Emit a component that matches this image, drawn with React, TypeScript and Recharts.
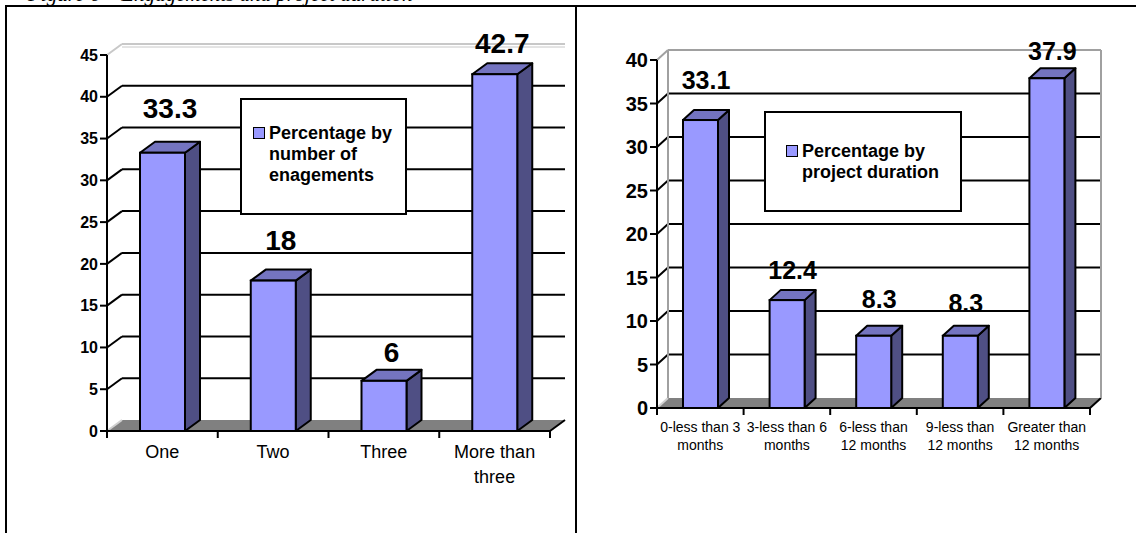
import React from 'react';
import { BarChart, Bar, XAxis, YAxis, CartesianGrid, LabelList, Legend } from 'recharts';

// left chart: number of engagements
const engagementCategories = ['One', 'Two', 'Three', 'More than\nthree'];
const engagementValues = [33.3, 18, 6, 42.7];
const engagementTicks = [0, 5, 10, 15, 20, 25, 30, 35, 40, 45];
const engagementLabelLift = [24, 20, 8, 10];

// right chart: project duration
const durationCategories = [
  '0-less than 3\nmonths',
  '3-less than 6\nmonths',
  '6-less than\n12 months',
  '9-less than\n12 months',
  'Greater than\n12 months',
];
const durationValues = [33.1, 12.4, 8.3, 8.3, 37.9];
const durationTicks = [0, 5, 10, 15, 20, 25, 30, 35, 40];
const durationLabelLift = [21, 11, 18, 14, 8];

const FRONT = '#9999ff';
const SIDE = '#4f4f84';
const TOP = '#7474c0';
const FLOOR = '#808080';

interface ChartCfg {
  width: number;
  height: number;
  margin: { top: number; left: number; right: number; bottom: number };
  dx: number;
  dy: number;
  barSize: number;
  yMax: number;
  yTickFont: number;
  valueFont: number;
  xFont: number;
  xFirst: number;
  xLine: number;
  walls: boolean;
  legendLabel: string[];
  legendBox: { left: number; top: number; width: number; height: number; padTop: number; padLeft: number };
}

const Y_W = 60;
const X_H = 60;

const plotBottom = (c: ChartCfg) => c.height - c.margin.bottom - X_H;
const plotLeft = (c: ChartCfg) => c.margin.left + Y_W;
const plotRight = (c: ChartCfg) => c.width - c.margin.right;

const makeGridLine = (c: ChartCfg) => (props: any) => {
  const { x1, x2, y1 } = props;
  const { dx, dy } = c;
  const key = `gl-${y1}`;
  if (Math.abs(y1 - plotBottom(c)) < 1) {
    return (
      <g key={key}>
        <polygon
          points={`${x1},${y1} ${x1 + dx},${y1 - dy} ${x2 + dx},${y1 - dy} ${x2},${y1}`}
          fill={FLOOR}
        />
        <line x1={x1} y1={y1} x2={x1 + dx} y2={y1 - dy} stroke="#d0d0d0" strokeWidth={2} />
        <line x1={x2} y1={y1} x2={x2 + dx} y2={y1 - dy} stroke="#000" strokeWidth={2} />
      </g>
    );
  }
  if (Math.abs(y1 - c.margin.top) < 1) {
    const gray = c.walls ? '#a0a0a0' : '#c8c8c8';
    return (
      <g key={key}>
        <line x1={x1} y1={y1} x2={x1 + dx} y2={y1 - dy} stroke={gray} strokeWidth={2} />
        <line x1={x1 + dx} y1={y1 - dy} x2={x2 + dx} y2={y1 - dy} stroke={gray} strokeWidth={2} />
        {!c.walls && (
          <line x1={x1 + dx} y1={y1 - dy + 3} x2={x2 + dx} y2={y1 - dy + 3} stroke={gray} strokeWidth={1} />
        )}
        {c.walls && (
          <>
            <line x1={x1 + dx} y1={y1 - dy} x2={x1 + dx} y2={plotBottom(c) - dy} stroke={gray} strokeWidth={2} />
            <line x1={x2 + dx} y1={y1 - dy} x2={x2 + dx} y2={plotBottom(c) - dy} stroke={gray} strokeWidth={2} />
          </>
        )}
      </g>
    );
  }
  return (
    <g key={key}>
      <line x1={x1} y1={y1} x2={x1 + dx} y2={y1 - dy} stroke="#000" strokeWidth={2} />
      <line x1={x1 + dx} y1={y1 - dy} x2={x2 + dx} y2={y1 - dy} stroke="#000" strokeWidth={2} />
    </g>
  );
};

const makeBox = (c: ChartCfg) => (props: any) => {
  const { x, y, width: w, height: h } = props;
  const { dx, dy } = c;
  return (
    <g>
      <polygon
        points={`${x + w},${y} ${x + w + dx},${y - dy} ${x + w + dx},${y + h - dy} ${x + w},${y + h}`}
        fill={SIDE}
        stroke="#000"
        strokeWidth={2}
        strokeLinejoin="round"
      />
      <polygon
        points={`${x},${y} ${x + dx},${y - dy} ${x + w + dx},${y - dy} ${x + w},${y}`}
        fill={TOP}
        stroke="#000"
        strokeWidth={2}
        strokeLinejoin="round"
      />
      <rect x={x} y={y} width={w} height={h} fill={FRONT} stroke="#000" strokeWidth={2} />
    </g>
  );
};

const makeXTick = (c: ChartCfg, count: number) => (props: any) => {
  const { x, payload, index } = props;
  const half = (plotRight(c) - plotLeft(c)) / count / 2;
  const bottom = plotBottom(c);
  const lines = String(payload.value).split('\n');
  return (
    <g>
      <line x1={x - half} y1={bottom} x2={x - half} y2={bottom + 7} stroke="#000" strokeWidth={2} />
      {index === count - 1 && (
        <line x1={x + half} y1={bottom} x2={x + half} y2={bottom + 7} stroke="#000" strokeWidth={2} />
      )}
      <text x={x} y={bottom + c.xFirst} textAnchor="middle" fontSize={c.xFont} fill="#000">
        {lines.map((l, i) => (
          <tspan key={i} x={x} dy={i === 0 ? 0 : c.xLine}>
            {l}
          </tspan>
        ))}
      </text>
    </g>
  );
};

const makeValueLabel = (c: ChartCfg, lift: number[]) => (props: any) => {
  const { x, y, width, value, index } = props;
  return (
    <text
      x={x + width / 2 + c.dx / 2}
      y={y - c.dy - lift[index]}
      textAnchor="middle"
      fontSize={c.valueFont}
      fontWeight={700}
      fill="#000"
    >
      {value}
    </text>
  );
};

const makeLegend = (c: ChartCfg) => () => (
  <div
    style={{
      boxSizing: 'border-box',
      width: c.legendBox.width,
      height: c.legendBox.height,
      border: '2px solid #000',
      background: '#fff',
      paddingTop: c.legendBox.padTop,
      paddingLeft: c.legendBox.padLeft,
      display: 'flex',
      alignItems: 'flex-start',
      fontWeight: 700,
      fontSize: 18,
      lineHeight: '21px',
      color: '#000',
    }}
  >
    <span
      style={{
        display: 'inline-block',
        width: 10,
        height: 10,
        border: '1.5px solid #000',
        background: FRONT,
        marginTop: 4,
        marginRight: 4,
        flex: 'none',
      }}
    />
    <div>
      {c.legendLabel.map((l) => (
        <div key={l}>{l}</div>
      ))}
    </div>
  </div>
);

const Chart3D: React.FC<{ cfg: ChartCfg; categories: string[]; values: number[]; ticks: number[]; lift: number[] }> = ({
  cfg,
  categories,
  values,
  ticks,
  lift,
}) => {
  const data = categories.map((name, i) => ({ name, value: values[i] }));
  return (
    <BarChart width={cfg.width} height={cfg.height} data={data} margin={cfg.margin}>
      <CartesianGrid vertical={false} horizontal={makeGridLine(cfg)} />
      <XAxis
        dataKey="name"
        interval={0}
        height={X_H}
        tickLine={false}
        axisLine={{ stroke: '#000', strokeWidth: 2 }}
        tick={makeXTick(cfg, categories.length)}
      />
      <YAxis
        width={Y_W}
        domain={[0, cfg.yMax]}
        ticks={ticks}
        interval={0}
        tickSize={7}
        tickMargin={2}
        axisLine={{ stroke: '#000', strokeWidth: 2 }}
        tickLine={{ stroke: '#000', strokeWidth: 2 }}
        tick={{ fill: '#000', fontSize: cfg.yTickFont, fontWeight: 700 }}
      />
      <Legend
        layout="horizontal"
        verticalAlign="middle"
        align="center"
        content={makeLegend(cfg)}
        wrapperStyle={{
          left: cfg.legendBox.left,
          top: cfg.legendBox.top,
          width: cfg.legendBox.width,
          height: cfg.legendBox.height,
        }}
      />
      <Bar dataKey="value" barSize={cfg.barSize} shape={makeBox(cfg)} isAnimationActive={false}>
        <LabelList dataKey="value" content={makeValueLabel(cfg, lift)} />
      </Bar>
    </BarChart>
  );
};

const leftCfg: ChartCfg = {
  width: 576,
  height: 533,
  margin: { top: 55, left: 107 - Y_W, right: 576 - 550, bottom: 533 - 431 - X_H },
  dx: 15,
  dy: 11,
  barSize: 45,
  yMax: 45,
  yTickFont: 16,
  valueFont: 28,
  xFont: 18,
  xFirst: 27,
  xLine: 25,
  walls: false,
  legendLabel: ['Percentage by', 'number of', 'enagements'],
  legendBox: { left: 240, top: 98, width: 167, height: 117, padTop: 23, padLeft: 11 },
};

const rightCfg: ChartCfg = {
  width: 560,
  height: 533,
  margin: { top: 60, left: 81 - Y_W, right: 560 - 514, bottom: 533 - 408 - X_H },
  dx: 11,
  dy: 10,
  barSize: 35,
  yMax: 40,
  yTickFont: 20,
  valueFont: 25,
  xFont: 14,
  xFirst: 24,
  xLine: 18,
  walls: true,
  legendLabel: ['Percentage by', 'project duration'],
  legendBox: { left: 188, top: 111, width: 198, height: 101, padTop: 28, padLeft: 20 },
};

export default function App() {
  return (
    <div
      style={{
        position: 'absolute',
        left: 0,
        top: 0,
        width: 1136,
        height: 533,
        overflow: 'hidden',
        background: '#fff',
        fontFamily: '"Liberation Sans", Arial, sans-serif',
      }}
    >
      <div
        style={{
          position: 'absolute',
          left: 28,
          top: -14,
          fontFamily: '"Liberation Serif", "Times New Roman", serif',
          fontStyle: 'italic',
          fontSize: 21,
          lineHeight: '16px',
          whiteSpace: 'nowrap',
        }}
      >
        Figure 6 – Engagements and project duration
      </div>
      <div style={{ position: 'absolute', left: 5, top: 5, width: 1131, height: 2, background: '#000' }} />
      <div style={{ position: 'absolute', left: 5, top: 5, width: 2, height: 528, background: '#000' }} />
      <div style={{ position: 'absolute', left: 575, top: 5, width: 2, height: 528, background: '#000' }} />
      <div style={{ position: 'absolute', left: 0, top: 0 }}>
        <Chart3D
          cfg={leftCfg}
          categories={engagementCategories}
          values={engagementValues}
          ticks={engagementTicks}
          lift={engagementLabelLift}
        />
      </div>
      <div style={{ position: 'absolute', left: 576, top: 0 }}>
        <Chart3D
          cfg={rightCfg}
          categories={durationCategories}
          values={durationValues}
          ticks={durationTicks}
          lift={durationLabelLift}
        />
      </div>
    </div>
  );
}
